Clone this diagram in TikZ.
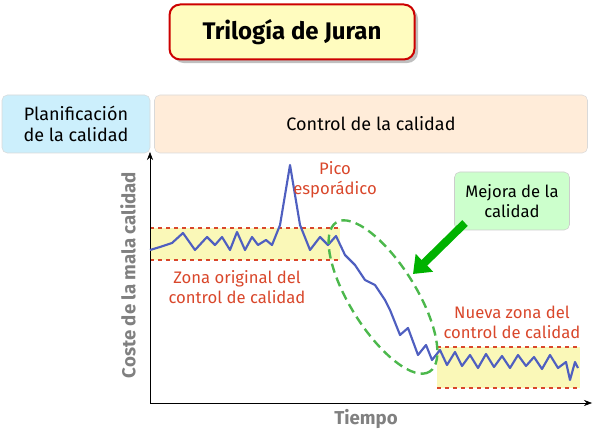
\documentclass[tikz,border=0pt]{standalone}
\usepackage{fontspec}
\setmainfont{Fira Sans}
\usetikzlibrary{arrows.meta,shadows}
\definecolor{zonered}{HTML}{D9472B}
\definecolor{lineblue}{HTML}{4F5FC0}
\definecolor{bandfill}{HTML}{FAF8B8}
\tikzset{
  header/.style={draw=gray!30,rounded corners=4pt,align=center,font=\fontsize{13.5}{16}\selectfont},
  zonelabel/.style={text=zonered,align=center,font=\fontsize{12.5}{15}\selectfont},
  band/.style={fill=bandfill,draw=none},
  bandline/.style={zonered,dashed,thick}
}
\begin{document}
\begin{tikzpicture}[x=0.75pt,y=-0.75pt]
\useasboundingbox (0,0) rectangle (600,445);
% Titel
\node[draw=red!80!black,line width=1.5pt,rounded corners=8pt,fill=yellow!25,
  minimum width=245*0.75pt,minimum height=55*0.75pt,font=\fontsize{18}{21}\selectfont\bfseries,drop shadow] (titulo) at (292,32) {Trilogía de Juran};
% Kopfzeilen
\node[header,fill=cyan!20,minimum width=148*0.75pt,minimum height=58*0.75pt] (plan) at (76,124) {Planificación\\de la calidad};
\node[header,fill=orange!15,minimum width=433*0.75pt,minimum height=58*0.75pt] (ctrl) at (371,124) {Control de la calidad};
% Zonen
\fill[band] (150,228) rectangle (340,260);
\draw[bandline] (150,228) -- (340,228);
\draw[bandline] (150,260) -- (340,260);
\fill[band] (437,347) rectangle (580,388);
\draw[bandline] (437,347) -- (580,347);
\draw[bandline] (437,388) -- (580,388);
% Achsen
\coordinate (o) at (150,403);
\coordinate (ytop) at (150,152);
\coordinate (xend) at (592,403);
\draw[-{Stealth[length=6pt]}] (o) -- (ytop);
\draw[-{Stealth[length=6pt]}] (o) -- (xend);
\node[rotate=90,text=gray,font=\fontsize{14}{16}\selectfont\bfseries] (ylab) at (128,275) {Coste de la mala calidad};
\node[text=gray,font=\fontsize{14}{16}\selectfont\bfseries] (xlab) at (366,419) {Tiempo};
% Kurve
\draw[lineblue,line width=1.6pt,line join=round] plot coordinates {(150,250) (160,247) (172,243) (183,233) (195,250) (207,237) (215,245) (222,237) (230,250) (237,232) (245,250) (252,237) (258,245) (266,240) (272,245) (280,225) (290,165) (300,225) (310,250) (320,237) (328,245) (336,236) (345,255) (355,265) (365,280) (375,285) (385,300) (390,310) (400,335) (408,328) (418,355) (426,345) (432,360) (440,350) (447,365) (455,352) (462,366) (470,355) (478,368) (486,354) (494,367) (502,356) (510,368) (518,355) (526,366) (534,357) (542,369) (550,355) (558,368) (566,362) (570,380) (575,362) (578,368)};
% Verbesserung
\draw[green!60!black!70,line width=1.8pt,dash pattern=on 7pt off 4pt] (383,297) ellipse[x radius=88,y radius=33,rotate=-58];
\node[draw=gray!40,rounded corners=4pt,fill=green!20,minimum width=115*0.75pt,minimum height=58*0.75pt,align=center,font=\fontsize{12.5}{15}\selectfont] (mejora) at (512,201) {Mejora de la\\calidad};
\draw[-{Triangle[length=12pt,width=18pt]},line width=6pt,green!70!black] (465,223) -- (413,274);
% Beschriftungen
\node[zonelabel] (pico) at (335,180) {Pico\\esporádico};
\node[zonelabel] (zona1) at (237,287) {Zona original del\\control de calidad};
\node[zonelabel] (zona2) at (512,322) {Nueva zona del\\control de calidad};
\end{tikzpicture}
\end{document}
